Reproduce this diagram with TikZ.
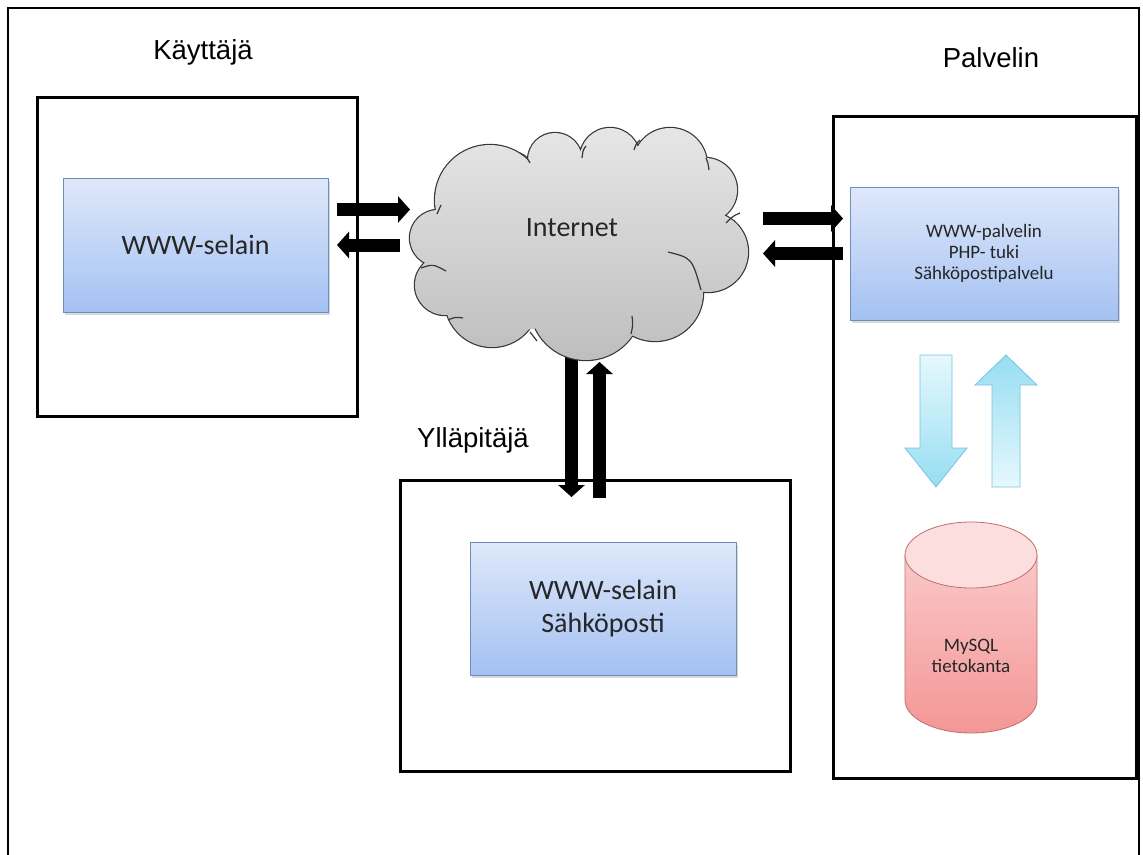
\documentclass[tikz,border=0pt]{standalone}
\usepackage{fontspec}
\setmainfont{Carlito}
\newfontfamily\labelfont{Liberation Sans}
\usetikzlibrary{arrows.meta,shadows}

\definecolor{boxtop}{RGB}{222,232,250}
\definecolor{boxbot}{RGB}{164,193,242}
\definecolor{boxedge}{RGB}{110,140,190}
\definecolor{cloudtop}{RGB}{230,230,230}
\definecolor{cloudbot}{RGB}{190,190,190}
\definecolor{cloudedge}{RGB}{55,55,55}
\definecolor{dbtop}{RGB}{252,222,222}
\definecolor{dbbody}{RGB}{250,200,200}
\definecolor{dbbot}{RGB}{244,150,150}
\definecolor{dbedge}{RGB}{190,110,110}
\definecolor{flowlight}{RGB}{230,248,253}
\definecolor{flowdark}{RGB}{150,222,242}
\definecolor{flowedge}{RGB}{120,195,222}

\begin{document}
\begin{tikzpicture}[x=1pt,y=-1pt,
  zone/.style={draw=black, line width=3pt, inner sep=0pt},
  app/.style={draw=boxedge, line width=0.8pt, top color=boxtop, bottom color=boxbot,
    drop shadow={shadow xshift=1.5pt, shadow yshift=-2.5pt, opacity=0.3},
    inner sep=0pt, align=center, text=black!85},
  bigtext/.style={font=\fontsize{28}{33}\selectfont},
  smalltext/.style={font=\fontsize{19}{21}\selectfont},
  caption/.style={font=\labelfont\fontsize{27.5}{31}\selectfont},
  pipe/.style={line width=13pt, -{Triangle[width=26pt,length=12pt]}},
  flow/.style={draw=flowedge, line width=0.8pt},
  puff/.style={draw=cloudedge, line width=1.2pt}]

\useasboundingbox (0,0) rectangle (1143,854);
\clip (0,0) rectangle (1143,854);

% page frame, open at the bottom
\draw[line width=2.7pt] (8,900) -- (8,8) -- (1139,8) -- (1139,900);

% captions
\node[caption] (userlbl) at (203,52) {Käyttäjä};
\node[caption] (serverlbl) at (991,58) {Palvelin};
\node[caption] (adminlbl) at (473,440) {Ylläpitäjä};

% zones
\node[zone, minimum width=320pt, minimum height=319pt] (user) at (197,256.5) {};
\node[zone, minimum width=303pt, minimum height=662pt] (server) at (984.5,447) {};
\node[zone, minimum width=390pt, minimum height=291pt] (admin) at (595,625.5) {};

% applications
\node[app, bigtext, minimum width=265pt, minimum height=134pt] (browser) at (195.5,245) {WWW-selain};
\node[app, smalltext, minimum width=268pt, minimum height=133pt] (web) at (984,253.5)
  {WWW-palvelin\\PHP- tuki\\Sähköpostipalvelu};
\node[app, bigtext, minimum width=266pt, minimum height=133pt] (adminapp) at (603,608.5)
  {WWW-selain\\Sähköposti};

% traffic between the parties and the internet
\coordinate (ua) at (337,209.5);  \coordinate (ub) at (410,209.5);
\coordinate (uc) at (400,245);    \coordinate (ud) at (337,245);
\coordinate (sa) at (763,218.5);  \coordinate (sb) at (843,218.5);
\coordinate (sc) at (843,253.5);  \coordinate (sd) at (763,253.5);
\coordinate (aa) at (571.5,350);  \coordinate (ab) at (571.5,497);
\coordinate (ac) at (599.5,498);  \coordinate (ad) at (599.5,362);
\begin{scope}[black!25, opacity=0.6, shift={(2,2.5)}]
  \draw[pipe] (ua) -- (ub);  \draw[pipe] (uc) -- (ud);
  \draw[pipe] (sa) -- (sb);  \draw[pipe] (sc) -- (sd);
  \draw[pipe] (aa) -- (ab);  \draw[pipe] (ac) -- (ad);
\end{scope}
\draw[pipe] (ua) -- (ub);
\draw[pipe] (uc) -- (ud);
\draw[pipe] (sa) -- (sb);
\draw[pipe] (sc) -- (sd);
\draw[pipe] (aa) -- (ab);
\draw[pipe] (ac) -- (ad);

% internet cloud: outline of the puffs, then the shaded union on top
\def\puffs{(438,238) circle[radius=28] (490,200) circle[radius=55]
  (555,160) circle[radius=27] (610,158) circle[radius=30]
  (670,165) circle[radius=37] (705,190) circle[radius=32]
  (708,252) circle[radius=40] (655,293) circle[radius=48]
  (586,304) circle[radius=56] (492,300) circle[radius=47]
  (445,285) circle[radius=30]}
\draw[draw=cloudedge, line width=2.4pt] \puffs;
\shade[top color=cloudtop, bottom color=cloudbot] \puffs
  (580,245) circle[radius=85] (520,250) circle[radius=80] (640,240) circle[radius=70];
% inner folds of the cloud
\draw[puff] (421,268) .. controls (433,264) .. (446,271);
\draw[puff] (441,205) .. controls (439,209) .. (437,214);
\draw[puff] (520,153) .. controls (526,156) .. (530,163);
\draw[puff] (586,146) .. controls (583,150) .. (582,158);
\draw[puff] (640,140) .. controls (636,144) .. (634,150);
\draw[puff] (706,158) .. controls (708,163) .. (709,170);
\draw[puff] (740,213) .. controls (733,216) .. (726,223);
\draw[puff] (668,252) .. controls (692,258) .. (701,290);
\draw[puff] (632,316) .. controls (633,325) .. (631,334);
\draw[puff] (530,332) .. controls (533,336) .. (537,341);
\draw[puff] (448,320) .. controls (455,317) .. (463,318);
\node[bigtext, text=black!85] (net) at (572,228) {Internet};

% requests to and answers from the database
\shade[flow, top color=flowlight, bottom color=flowdark]
  (920,355) -- (952,355) -- (952,448) -- (967,448) -- (936,487) -- (905,448) -- (920,448) -- cycle;
\shade[flow, top color=flowdark, bottom color=flowlight]
  (992,487) -- (1020,487) -- (1020,385) -- (1037,385) -- (1006,355) -- (975,385) -- (992,385) -- cycle;

% database cylinder
\shade[top color=dbbody, bottom color=dbbot, draw=dbedge, line width=0.8pt]
  (905,555) -- (905,700) .. controls (905,718.2) and (934.5,733) .. (971,733)
  .. controls (1007.5,733) and (1037,718.2) .. (1037,700) -- (1037,555) -- cycle;
\filldraw[fill=dbtop, draw=dbedge, line width=0.8pt] (971,555) ellipse[x radius=66, y radius=33];
\node[smalltext, align=center, text=black!85] (db) at (971,656) {MySQL\\tietokanta};

\end{tikzpicture}
\end{document}
